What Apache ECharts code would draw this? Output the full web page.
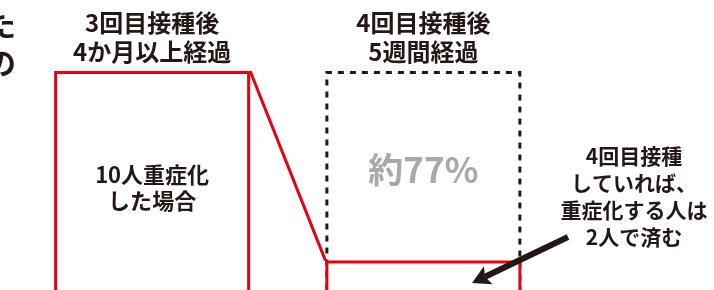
<!DOCTYPE html>
<html>
<head>
<meta charset="utf-8">
<script src="https://cdn.jsdelivr.net/npm/echarts@6/dist/echarts.min.js"></script>
<style>
  html, body { margin: 0; padding: 0; background: #fff; }
  #main { width: 714px; height: 290px; }
</style>
</head>
<body>
<div id="main"></div>
<script>
var categories = ['3回目接種後\n4か月以上経過', '4回目接種後\n5週間経過'];
var severeCases = [10, 2.3];          // 重症化する人数
var baseline = ['-', 10];             // 接種しなかった場合の目安
var reductionLabel = '約77%';
var caseLabel = '10人重症化\nした場合';
var noteLines = ['4回目接種', 'していれば、', '重症化する人は', '2人で済む'];
var clippedTitle = ['た', 'の'];

var RED = '#e60012';
var INK = '#231815';
var FONT = '"Noto Sans CJK JP", "Noto Sans", sans-serif';
var WEIGHT = 'bold';
var BAR_W = 196;

var chartDom = document.getElementById('main');
var myChart = echarts.init(chartDom);
var option;

// 矢印（注記から2本目の棒へ）
var arrowFrom = [568, 237];
var arrowTip = [472, 283];
function arrowShapes(from, tip, headLen, headHalf) {
  var dx = tip[0] - from[0], dy = tip[1] - from[1];
  var len = Math.sqrt(dx * dx + dy * dy);
  var ux = dx / len, uy = dy / len;
  var nx = -uy, ny = ux;
  var bx = tip[0] - ux * headLen, by = tip[1] - uy * headLen;
  var notch = [tip[0] - ux * headLen * 0.8, tip[1] - uy * headLen * 0.8];
  return [
    {
      type: 'line',
      z: 100,
      shape: { x1: from[0], y1: from[1], x2: notch[0], y2: notch[1] },
      style: { stroke: INK, lineWidth: 6 }
    },
    {
      type: 'polygon',
      z: 100,
      shape: {
        points: [tip, [bx + nx * headHalf, by + ny * headHalf], notch, [bx - nx * headHalf, by - ny * headHalf]]
      },
      style: { fill: INK }
    }
  ];
}

option = {
  animation: false,
  textStyle: { fontFamily: FONT },
  grid: {
    left: 16.5,
    right: 155,
    top: 71,
    bottom: -27,
    containLabel: false,
    outerBoundsMode: 'none'
  },
  xAxis: {
    type: 'category',
    position: 'top',
    data: categories,
    axisLine: { show: false },
    axisTick: { show: false },
    axisLabel: {
      color: INK,
      fontSize: 24,
      lineHeight: 29,
      fontFamily: FONT,
      fontWeight: WEIGHT,
      margin: 5
    }
  },
  yAxis: {
    type: 'value',
    min: 0,
    max: 10,
    show: false,
    splitLine: { show: false }
  },
  series: [
    {
      type: 'bar',
      barWidth: BAR_W,
      data: baseline.map(function (v) {
        return v === '-' ? '-' : {
          value: v,
          label: {
            show: true,
            position: 'inside',
            offset: [0, -24],
            formatter: reductionLabel,
            color: '#a9a9a9',
            fontSize: 35,
            fontWeight: 'bold',
            fontFamily: FONT
          }
        };
      }),
      itemStyle: {
        color: 'rgba(0,0,0,0)',
        borderColor: INK,
        borderWidth: 3,
        borderType: [6, 6]
      },
      silent: true
    },
    {
      type: 'bar',
      barWidth: BAR_W,
      barGap: '-100%',
      data: severeCases.map(function (v, i) {
        if (i !== 0) return v;
        return {
          value: v,
          label: {
            show: true,
            position: 'inside',
            offset: [0, -6],
            formatter: caseLabel,
            color: INK,
            fontSize: 22,
            lineHeight: 26,
            fontWeight: WEIGHT,
            fontFamily: FONT
          }
        };
      }),
      itemStyle: {
        color: '#fff',
        borderColor: RED,
        borderWidth: 3
      }
    },
    {
      // 2本の棒の肩をつなぐ線
      type: 'custom',
      data: [[0, 1]],
      renderItem: function (params, api) {
        var p1 = api.coord([0, severeCases[0]]);
        var p2 = api.coord([1, severeCases[1]]);
        return {
          type: 'line',
          shape: { x1: p1[0] + BAR_W / 2, y1: p1[1], x2: p2[0] - BAR_W / 2, y2: p2[1] },
          style: { stroke: RED, lineWidth: 3 }
        };
      },
      z: 3,
      silent: true
    }
  ],
  graphic: [
    {
      type: 'group',
      z: 100,
      silent: true,
      children: arrowShapes(arrowFrom, arrowTip, 18, 10)
    },
    {
      type: 'text',
      x: 634,
      y: 143,
      style: {
        text: noteLines.join('\n'),
        fill: INK,
        font: WEIGHT + ' 21px ' + FONT,
        lineHeight: 27,
        align: 'center'
      }
    },
    {
      type: 'text',
      x: 16,
      y: 6,
      style: {
        text: clippedTitle.join('\n'),
        fill: INK,
        font: WEIGHT + ' 30px ' + FONT,
        lineHeight: 38,
        align: 'right'
      }
    }
  ]
};

option && myChart.setOption(option);
</script>
</body>
</html>
